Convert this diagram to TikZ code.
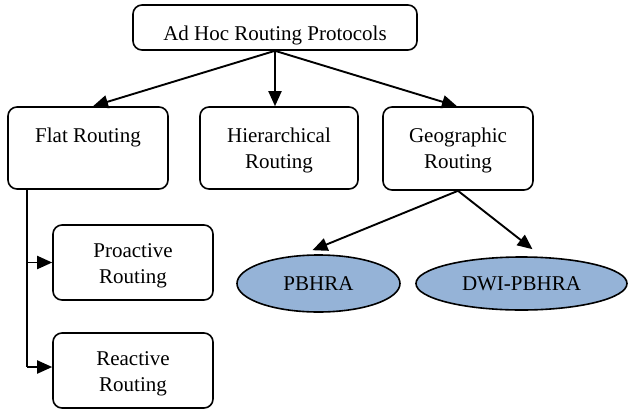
\documentclass[tikz,border=0pt]{standalone}
\usepackage{fontspec}
\setmainfont{Liberation Serif}
\usetikzlibrary{arrows.meta,shapes.geometric,calc}
\definecolor{ellfill}{HTML}{95B3D7}
\begin{document}
\begin{tikzpicture}[x=1pt,y=-1pt,
  font=\fontsize{21}{26}\selectfont,
  box/.style={draw,line width=1.6pt,rounded corners=9pt,inner sep=0pt},
  oval/.style={draw,line width=1.6pt,ellipse,fill=ellfill,inner sep=0pt},
  lbl/.style={inner sep=0pt,align=center},
  conn/.style={line width=1.9pt},
  arr/.style={conn,-{Triangle[length=15pt,width=13pt]}}]
\useasboundingbox (0,0) rectangle (629,410);
% boxes
\node[box,minimum width=284pt,minimum height=45pt] (top) at (275,27.5) {};
\node[lbl,anchor=base] (toplbl) at (275,40) {Ad Hoc Routing Protocols};
\node[box,minimum width=160pt,minimum height=82pt] (flat) at (88,148) {};
\node[lbl,anchor=base] (flatlbl) at (88,142) {Flat Routing};
\node[box,minimum width=158pt,minimum height=82pt] (hier) at (279,148) {};
\node[lbl,anchor=base] (hierlbl) at (279,168) {Hierarchical\\Routing};
\node[box,minimum width=150pt,minimum height=83pt] (geo) at (458,148.5) {};
\node[lbl,anchor=base] (geolbl) at (458,168) {Geographic\\Routing};
\node[box,minimum width=160pt,minimum height=75pt] (pro) at (133,262.5) {};
\node[lbl,anchor=base] (prolbl) at (133,283) {Proactive\\Routing};
\node[box,minimum width=160pt,minimum height=75pt] (rea) at (133,370.5) {};
\node[lbl,anchor=base] (realbl) at (133,391) {Reactive\\Routing};
\node[oval,minimum width=163pt,minimum height=57pt] (pb) at (318.5,283.5) {};
\node[lbl] (pblbl) at (318.5,284) {PBHRA};
\node[oval,minimum width=211pt,minimum height=53pt] (dwi) at (521.5,283.5) {};
\node[lbl] (dwilbl) at (521.5,284) {DWI-PBHRA};
% connectors
\draw[arr] (top.south) -- ([xshift=5pt]flat.north);
\draw[arr] (top.south) -- (top.south |- hier.north);
\draw[arr] (top.south) -- ([xshift=-1pt]geo.north);
\draw[arr] (geo.south) -- ($(pb.north)+(-6,-4)$);
\draw[arr] (geo.south) -- ($(dwi.north)+(11,-7)$);
\coordinate (fl) at ([xshift=20pt]flat.south west);
\draw[conn] (fl) -- (fl |- pro.west);
\draw[arr] (fl |- pro.west) -- (pro.west);
\draw[conn] (fl |- pro.west) -- ([yshift=3.5pt]fl |- rea.west);
\draw[arr] ([yshift=3.5pt]fl |- rea.west) -- ([yshift=3.5pt]rea.west);
\end{tikzpicture}
\end{document}
